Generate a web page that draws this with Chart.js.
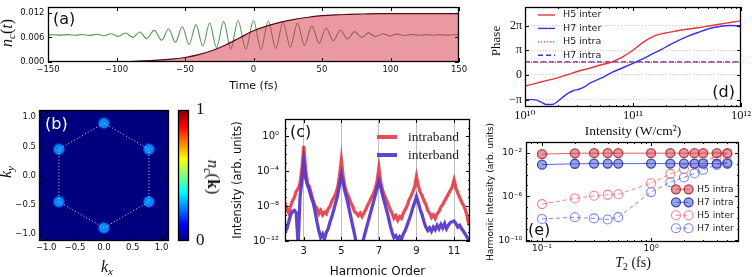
<!DOCTYPE html>
<html><head><meta charset="utf-8">
<script src="https://cdn.jsdelivr.net/npm/chart.js@4/dist/chart.umd.min.js"></script>
<style>
html,body{margin:0;padding:0;background:#fff;}
#root{position:relative;width:752px;height:277px;overflow:hidden;background:#fff;}
#root canvas{position:absolute;}
.lbl{position:absolute;white-space:nowrap;line-height:1;color:#111;z-index:5;}
.lbl sub{font-size:0.7em;vertical-align:-0.3em;line-height:0;}
</style></head><body><div id="root"></div>
<script>
// ================= DATA =================
// (a) carrier density n_c(t)
const fillTimes = [-150,-140,-130,-120,-110,-100,-90,-80,-70,-60,-50,-40,-30,-20,-10,0,10,20,30,40,50,60,70,80,90,100,110,120,130,140,150];
const fillNc = [0,0,0,0,0.00001,0.00004,0.00012,0.00025,0.00045,0.00072,0.0011,0.0018,0.0028,0.0042,0.0059,0.0076,0.0088,0.0097,0.0104,0.0109,0.0113,0.0115,0.0116,0.0117,0.0118,0.0118,0.0118,0.0118,0.0118,0.0118,0.0118];
const fieldTimes = [-150,-146,-141,-135.5,-130,-125,-120,-114.5,-109,-104,-99,-93.5,-88,-83,-78,-72.5,-67,-62,-57,-52,-47,-42,-37,-32,-27,-21.8,-16.5,-11.3,-5.6,0,5.4,10.8,16.2,21.6,26.8,32,37.3,42.6,47.8,53,58.2,63.4,68.6,73.8,79,84,89,94.4,99.6,104.8,110,115.2,120.4,125.6,130.8,136,141.2,146.4,150];
const fieldVals = [0.0066,0.00665,0.00655,0.00668,0.0065,0.0067,0.00648,0.00675,0.0064,0.00688,0.00625,0.00705,0.006,0.0073,0.0057,0.0077,0.0053,0.0081,0.0048,0.0086,0.0043,0.0091,0.0039,0.0095,0.0035,0.0099,0.0032,0.0101,0.0031,0.0101,0.0031,0.0100,0.0033,0.0097,0.0036,0.0094,0.0041,0.0088,0.0046,0.0083,0.0052,0.0078,0.0056,0.0074,0.006,0.0071,0.0062,0.0069,0.00635,0.0068,0.00645,0.00672,0.0065,0.00668,0.00652,0.00666,0.00655,0.00664,0.0066];
const timeTicks = [-150,-100,-50,0,50,100,150];
const timeTickLabels = ['\u2212150','\u2212100','\u221250','0','50','100','150'];
const ncTicks = [0,0.006,0.012];
const ncTickLabels = ['0.000','0.006','0.012'];

// (b) k-space populations (hexagon vertices)
const spotKx = [0, 0.78, 0.78, 0, -0.78, -0.78];
const spotKy = [0.9, 0.45, -0.45, -0.9, -0.45, 0.45];
const kTicks = [-1,-0.5,0,0.5,1];
const kTickLabels = ['\u22121.0','\u22120.5','0.0','0.5','1.0'];
const colorbarRange = [0, 1];
const colorbarTickLabels = ['0','1'];

// (c) harmonic spectra
const harmonicOrder = [2.0,2.1,2.2,2.3,2.4,2.5,2.6,2.7,2.8,2.9,3.0,3.1,3.2,3.3,3.4,3.5,3.6,3.7,3.8,3.9,4.0,4.1,4.2,4.3,4.4,4.5,4.6,4.7,4.8,4.9,5.0,5.1,5.2,5.3,5.4,5.5,5.6,5.7,5.8,5.9,6.0,6.1,6.2,6.3,6.4,6.5,6.6,6.7,6.8,6.9,7.0,7.1,7.2,7.3,7.4,7.5,7.6,7.7,7.8,7.9,8.0,8.1,8.2,8.3,8.4,8.5,8.6,8.7,8.8,8.9,9.0,9.1,9.2,9.3,9.4,9.5,9.6,9.7,9.8,9.9,10.0,10.1,10.2,10.3,10.4,10.5,10.6,10.7,10.8,10.9,11.0,11.1,11.2,11.3,11.4,11.5,11.6,11.7,11.8];
const intraband = [2.5e-8,4e-9,1.6e-9,1e-8,4e-8,1e-7,5e-7,1e-6,4e-6,1.6e-4,
 8e-2,1.3e-4,4e-6,1.6e-6,2.5e-7,4e-8,1e-8,6.3e-9,1.3e-9,3.2e-9,
 1e-9,2e-9,1.3e-9,5e-9,1e-8,4e-8,1e-7,2.5e-7,1.3e-6,2.5e-5,
 2e-3,2e-5,1.3e-6,3.2e-7,1e-7,2.5e-8,1e-8,2.5e-9,1.6e-9,8e-10,
 1.6e-9,6.3e-10,1.6e-9,4e-9,1.3e-8,3.2e-8,1e-7,2.5e-7,1e-6,6.3e-6,
 2.5e-4,5e-6,6.3e-7,1.6e-7,5e-8,1.6e-8,4e-9,1.6e-9,4e-10,8e-10,
 2.5e-10,6.3e-10,4e-10,1.6e-9,4e-9,1e-8,5e-8,1.3e-7,4e-7,1.6e-6,
 2.5e-5,2e-6,4e-7,1.6e-7,4e-8,1.6e-8,3.2e-9,1.6e-9,5e-10,1e-9,
 4e-10,1.3e-9,2.5e-9,8e-9,1.6e-8,4e-8,1e-7,2.5e-7,6.3e-7,1.6e-6,
 1e-5,1.3e-6,3.2e-7,1e-7,3.2e-8,1.3e-8,4e-9,6.3e-10,6.3e-11];
const interband = [1e-11,2.5e-11,1.6e-10,1e-9,2.5e-9,3.2e-9,1.6e-9,3.2e-13,1e-7,1e-5,
 1.3e-3,1.6e-5,2.5e-6,6.3e-7,1e-7,2.5e-8,2.5e-9,1.6e-10,1.6e-11,2.5e-12,
 6.3e-12,1.6e-12,1e-11,2.5e-11,1.6e-10,6.3e-10,4e-9,2.5e-8,1.6e-7,2.5e-6,
 4e-5,4e-6,4e-7,6.3e-8,6.3e-9,6.3e-10,6.3e-11,6.3e-12,5e-13,3.2e-13,
 6.3e-13,3.2e-13,2.5e-12,1.6e-11,1e-10,6.3e-10,4e-9,2.5e-8,1.6e-7,1e-6,
 8e-6,1.3e-6,1.6e-7,2.5e-8,4e-9,6.3e-10,6.3e-11,1e-11,2.5e-12,4e-12,
 1.6e-12,3.2e-12,1.6e-12,6.3e-12,1.6e-11,6.3e-11,2.5e-10,1e-9,6.3e-9,2.5e-8,
 1.3e-7,2.5e-8,4e-9,1e-9,1.6e-10,4e-11,1.6e-11,3.2e-11,1.3e-11,4e-11,
 2e-11,6.3e-11,2.5e-11,8e-11,3.2e-11,1e-10,2.5e-11,6.3e-11,1.3e-10,1.6e-10,
 2e-10,1e-10,4e-11,6.3e-11,2.5e-11,1.3e-11,6.3e-12,2.5e-12,1.3e-12];
const orderTicks = [3,5,7,9,11];
const orderTickLabels = ['3','5','7','9','11'];
const specTicks = [1,1e-4,1e-8,1e-12];
const specTickLabels = ['10\u2070','10\u207b\u2074','10\u207b\u2078','10\u207b\u00b9\u00b2'];
const specMinor = [10,1e-1,1e-2,1e-3,1e-5,1e-6,1e-7,1e-9,1e-10,1e-11];

// (d) phase vs intensity
const intensityH5 = [1e10,1.26e10,1.58e10,2e10,2.51e10,3.16e10,3.98e10,5.01e10,6.31e10,7.94e10,1e11,1.26e11,1.58e11,2e11,2.51e11,3.16e11,3.98e11,5.01e11,6.31e11,7.94e11,1e12];
const phaseH5inter = [-1.41,-1.07,-0.72,-0.38,0.06,0.50,0.85,1.26,1.63,2.26,3.14,4.21,4.96,5.34,5.59,5.81,6.00,6.22,6.44,6.66,6.88];
const intensityH7 = [1e10,1.12e10,1.26e10,1.41e10,1.58e10,1.78e10,2e10,2.24e10,2.51e10,2.82e10,3.16e10,3.55e10,3.98e10,5.01e10,6.31e10,7.94e10,1e11,1.26e11,1.58e11,2e11,2.51e11,3.16e11,3.98e11,5.01e11,6.31e11,7.94e11,1e12];
const phaseH7inter = [-3.14,-3.14,-3.17,-3.46,-3.77,-3.77,-3.39,-2.83,-2.32,-1.98,-1.82,-1.51,-1.04,-0.44,0.28,0.88,1.48,2.10,2.80,3.52,4.24,4.87,5.40,5.87,6.16,6.28,6.25];
const intensityIntra = [1e10,1e12];
const phaseH5intra = [1.60,1.60];
const phaseH7intra = [1.66,1.66];
const intensityTicks = [1e10,1e11,1e12];
const intensityTickLabels = ['10\u00b9\u2070','10\u00b9\u00b9','10\u00b9\u00b2'];
const intensityMinor = [2e10,3e10,4e10,5e10,6e10,7e10,8e10,9e10,2e11,3e11,4e11,5e11,6e11,7e11,8e11,9e11];
const phaseTicks = [-Math.PI,0,Math.PI,2*Math.PI];
const phaseTickLabels = ['\u2212\u03c0','0','\u03c0','2\u03c0'];

// (e) harmonic intensity vs T2
const t2Values = [0.1,0.2,0.3,0.4,0.5,1.0,1.5,2.0,2.5,3.0,4.0,5.0];
const h5Intra = [7.2e-3,8.7e-3,8.9e-3,8.9e-3,8.9e-3,8.9e-3,8.9e-3,8.9e-3,8.9e-3,8.9e-3,8.9e-3,8.9e-3];
const h7Intra = [8e-4,9.6e-4,1e-3,1e-3,1e-3,1e-3,1e-3,1e-3,1e-3,1e-3,1e-3,1e-3];
const h5Inter = [2e-7,6.6e-7,1.15e-6,1.4e-6,1.6e-6,1.6e-5,1.15e-4,3.2e-4,9.3e-4,1.4e-3,4.4e-3,7.6e-3];
const h7Inter = [8.9e-9,1.26e-8,1e-8,7.9e-9,1.3e-8,2.5e-6,2e-5,5.4e-5,1.26e-4,2.7e-4,7.6e-4,1.4e-3];
const t2Ticks = [0.1,1];
const t2TickLabels = ['10\u207b\u00b9','10\u2070'];
const t2Minor = [0.08,0.09,0.2,0.3,0.4,0.5,0.6,0.7,0.8,0.9,2,3,4,5,6];
const hiTicks = [1e-2,1e-6,1e-10];
const hiTickLabels = ['10\u207b\u00b2','10\u207b\u2076','10\u207b\u00b9\u2070'];
const hiMinor = [1e-3,1e-4,1e-5,1e-7,1e-8,1e-9];

// ================= HELPERS =================
const SANS = "'DejaVu Sans', sans-serif";
const SERIF = "'Liberation Serif', 'DejaVu Serif', serif";
const root = document.getElementById('root');
const pts = (xs, ys) => xs.map((x, i) => ({x, y: ys[i]}));

const framePlugin = {
  id: 'frame',
  beforeDatasetsDraw(chart, args, o) {
    if (!o || !o.bg) return;
    const {ctx, chartArea: a} = chart;
    ctx.save(); ctx.fillStyle = o.bg; ctx.fillRect(a.left, a.top, a.width, a.height); ctx.restore();
  },
  afterDraw(chart, args, o) {
    if (!o || o.display === false) return;
    const {ctx, chartArea: a} = chart;
    ctx.save();
    ctx.strokeStyle = '#000'; ctx.lineWidth = 1;
    const seg = (x1, y1, x2, y2) => { ctx.beginPath(); ctx.moveTo(x1, y1); ctx.lineTo(x2, y2); ctx.stroke(); };
    if (o.ticks !== false) {
      const L = o.tick || 4, Lm = o.minorTick || 2;
      for (const id of Object.keys(chart.scales)) {
        const s = chart.scales[id];
        if (!s.options.display) continue;
        const h = s.isHorizontal();
        const draw = (v, len) => {
          let p = s.getPixelForValue(v);
          if (h) { if (p < a.left - 0.5 || p > a.right + 0.5) return; p = Math.round(p) + 0.5;
            seg(p, a.bottom, p, a.bottom - len); seg(p, a.top, p, a.top + len); }
          else { if (p < a.top - 0.5 || p > a.bottom + 0.5) return; p = Math.round(p) + 0.5;
            seg(a.left, p, a.left + len, p); seg(a.right, p, a.right - len, p); }
        };
        s.ticks.forEach(t => draw(t.value, L));
        ((o.minor && o.minor[id]) || []).forEach(v => draw(v, Lm));
      }
    }
    ctx.lineWidth = 1.3;
    ctx.strokeRect(Math.round(a.left) + 0.5, Math.round(a.top) + 0.5, Math.round(a.width) - 1, Math.round(a.height) - 1);
    ctx.restore();
  }
};

const panelLabel = {
  id: 'plabel',
  afterDraw(chart, args, o) {
    if (!o || !o.text) return;
    const {ctx, chartArea: a} = chart;
    ctx.save(); ctx.font = o.font; ctx.fillStyle = o.color || '#111'; ctx.textBaseline = 'middle';
    let x, y;
    if (o.anchor === 'br') { x = a.right + o.x; y = a.bottom + o.y; ctx.textAlign = 'right'; }
    else if (o.anchor === 'bl') { x = a.left + o.x; y = a.bottom + o.y; ctx.textAlign = 'left'; }
    else { x = a.left + o.x; y = a.top + o.y; ctx.textAlign = 'left'; }
    ctx.fillText(o.text, x, y); ctx.restore();
  }
};

const legendPlugin = {
  id: 'mlegend',
  afterDraw(chart, args, o) {
    if (!o || !o.display) return;
    const {ctx, chartArea: a} = chart;
    ctx.save();
    ctx.font = o.font; ctx.textBaseline = 'middle';
    let row = 0;
    chart.data.datasets.forEach(ds => {
      if (!ds.label) return;
      const y = a.top + o.y + row * o.rowH, x = a.left + o.x;
      ctx.save();
      ctx.strokeStyle = ds.borderColor; ctx.lineWidth = o.lineWidth || ds.borderWidth || 1;
      ctx.setLineDash(ds.borderDash || []);
      ctx.beginPath(); ctx.moveTo(x, y); ctx.lineTo(x + o.len, y); ctx.stroke();
      ctx.restore();
      if (o.markers) {
        [x, x + o.len].forEach(px => {
          ctx.beginPath(); ctx.arc(px, y, ds.pointRadius, 0, 2 * Math.PI);
          ctx.fillStyle = ds.pointBackgroundColor; ctx.fill();
          ctx.lineWidth = ds.pointBorderWidth; ctx.strokeStyle = ds.pointBorderColor; ctx.stroke();
        });
      }
      ctx.fillStyle = o.color || '#222'; ctx.textAlign = 'left';
      ctx.fillText(ds.label, x + o.len + o.gap, y);
      row++;
    });
    ctx.restore();
  }
};
Chart.register(framePlugin, panelLabel, legendPlugin);

function axis(o) {
  return {
    type: o.type, position: o.pos, min: o.min, max: o.max, display: o.display !== false,
    afterBuildTicks: s => { s.ticks = o.ticks.map(v => ({value: v})); },
    ticks: { autoSkip: false, maxRotation: 0, minRotation: 0, padding: o.pad, color: '#111',
      font: o.font, callback: (v, i) => o.labels[i] },
    grid: Object.assign({display: false, drawTicks: false, tickLength: 0}, o.grid || {}),
    border: Object.assign({display: false}, o.border || {}),
    title: o.title || {display: false}
  };
}

function makeChart(box, area, type, data, opts) {
  const c = document.createElement('canvas');
  c.width = box.w; c.height = box.h;
  c.style.left = box.x + 'px'; c.style.top = box.y + 'px';
  c.style.width = box.w + 'px'; c.style.height = box.h + 'px';
  root.appendChild(c);
  const pad = {top: area.t - box.y, left: area.l - box.x, right: box.x + box.w - area.r, bottom: box.y + box.h - area.b};
  for (const [id, s] of Object.entries(opts.scales)) {
    if (s.display === false) continue;
    const horiz = id.startsWith('x');
    let size;
    if (horiz) { size = pad.bottom; pad.bottom = 0; }
    else if (s.position === 'right') { size = pad.right; pad.right = 0; }
    else { size = pad.left; pad.left = 0; }
    s.afterFit = sc => {
      if (horiz) sc.height = size; else sc.width = size;
      sc.paddingLeft = sc.paddingRight = sc.paddingTop = sc.paddingBottom = 0;
    };
  }
  opts.responsive = false; opts.maintainAspectRatio = false; opts.animation = false;
  opts.devicePixelRatio = 1;
  opts.layout = {padding: pad};
  opts.plugins = Object.assign({legend: {display: false}, tooltip: {enabled: false}}, opts.plugins || {});
  return new Chart(c, {type, data, options: opts});
}

function htmlLabel(html, cx, cy, rot, font) {
  const d = document.createElement('div');
  d.className = 'lbl'; d.innerHTML = html; d.style.font = font;
  d.style.left = cx + 'px'; d.style.top = cy + 'px';
  d.style.transform = 'translate(-50%,-50%) rotate(' + rot + 'deg)';
  root.appendChild(d);
}

// ================= (a) =================
makeChart({x: 0, y: 0, w: 478, h: 96}, {l: 48, t: 7, r: 459, b: 62}, 'line', {
  datasets: [
    {data: pts(fillTimes, fillNc), borderColor: '#5a0c14', borderWidth: 1.2,
     backgroundColor: 'rgba(214,52,70,0.5)', fill: 'origin', pointRadius: 0, cubicInterpolationMode: 'monotone', order: 0},
    {data: pts(fieldTimes, fieldVals), borderColor: 'rgba(70,140,70,0.9)', borderWidth: 1.1,
     fill: false, pointRadius: 0, cubicInterpolationMode: 'monotone', order: 1}
  ]
}, {
  scales: {
    x: axis({type: 'linear', min: -150, max: 150, ticks: timeTicks, labels: timeTickLabels, pad: 3,
      font: {family: SANS, size: 8.5},
      title: {display: true, text: 'Time (fs)', color: '#111', font: {family: SANS, size: 11}, padding: {top: 0, bottom: 3}}}),
    y: axis({type: 'linear', min: 0, max: 0.0134, ticks: ncTicks, labels: ncTickLabels, pad: 3.5,
      font: {family: SANS, size: 8.5}})
  },
  plugins: {frame: {tick: 4}, plabel: {text: '(a)', x: 5, y: 13, font: '16px ' + SANS}, mlegend: {display: false}}
});

// ================= (b) heatmap =================
const spotData = pts(spotKx, spotKy);
makeChart({x: 0, y: 100, w: 175, h: 160}, {l: 39, t: 110, r: 170, b: 241}, 'scatter', {
  datasets: [
    {data: spotData.concat([spotData[0]]), showLine: true, borderColor: 'rgba(255,255,255,0.85)', borderWidth: 1,
     borderDash: [1, 2.2], pointRadius: 0},
    {data: spotData, pointRadius: 6.2, pointBackgroundColor: 'rgba(0,80,255,0.55)', pointBorderWidth: 0},
    {data: spotData, pointRadius: 5.2, pointBackgroundColor: 'rgba(0,190,255,0.8)', pointBorderWidth: 0},
    {data: spotData, pointRadius: 4.3, pointBackgroundColor: '#8cf27c', pointBorderWidth: 0}
  ]
}, {
  scales: {
    x: axis({type: 'linear', min: -1.125, max: 1.125, ticks: kTicks, labels: kTickLabels, pad: 2, font: {family: SANS, size: 8.5}}),
    y: axis({type: 'linear', min: -1.125, max: 1.125, ticks: kTicks, labels: kTickLabels, pad: 3, font: {family: SANS, size: 8.5}})
  },
  plugins: {frame: {tick: 4, bg: '#00007f'}, plabel: {text: '(b)', x: 6, y: 15, font: '16px ' + SANS, color: '#fff'}}
});

// colorbar
const jetStops = [[0, '#00007f'], [0.125, '#0000ff'], [0.375, '#00ffff'], [0.5, '#7fff7f'], [0.625, '#ffff00'], [0.875, '#ff0000'], [1, '#7f0000']];
makeChart({x: 170, y: 100, w: 45, h: 152}, {l: 178, t: 110, r: 189, b: 241}, 'bar', {
  labels: ['n'],
  datasets: [{data: [colorbarRange], barPercentage: 1, categoryPercentage: 1, borderWidth: 0,
    backgroundColor: (c) => {
      const a = c.chart.chartArea; if (!a) return '#00007f';
      const g = c.chart.ctx.createLinearGradient(0, a.bottom, 0, a.top);
      jetStops.forEach(s => g.addColorStop(s[0], s[1])); return g;
    }}]
}, {
  scales: {
    x: {type: 'category', display: false},
    y: axis({type: 'linear', pos: 'right', min: 0, max: 1, ticks: colorbarRange, labels: colorbarTickLabels, pad: 7,
      font: {family: SERIF, size: 17}})
  },
  plugins: {frame: {ticks: false}}
});

// ================= (c) =================
makeChart({x: 225, y: 110, w: 255, h: 172}, {l: 285, t: 119, r: 470, b: 241}, 'line', {
  datasets: [
    {label: 'intraband', data: pts(harmonicOrder, intraband), borderColor: 'rgba(228,62,72,0.92)', borderWidth: 3.3,
     pointRadius: 0, tension: 0, order: 1},
    {label: 'interband', data: pts(harmonicOrder, interband), borderColor: 'rgba(88,58,200,0.95)', borderWidth: 3.3,
     pointRadius: 0, tension: 0, order: 0}
  ]
}, {
  scales: {
    x: axis({type: 'linear', min: 2, max: 11.85, ticks: orderTicks, labels: orderTickLabels, pad: 4,
      font: {family: SANS, size: 10},
      grid: {display: true, drawOnChartArea: true, color: 'rgba(0,0,0,0.25)', lineWidth: 1},
      title: {display: true, text: 'Harmonic Order', color: '#111', font: {family: SANS, size: 12}, padding: {top: 0, bottom: 2.8}}}),
    y: axis({type: 'logarithmic', min: 1e-12, max: 100, ticks: specTicks, labels: specTickLabels, pad: 6,
      font: {family: SANS, size: 10},
      title: {display: true, text: 'Intensity (arb. units)', color: '#111', font: {family: SANS, size: 11.5}, padding: {top: 6, bottom: 0}}})
  },
  plugins: {frame: {tick: 4, minor: {y: specMinor}}, plabel: {text: '(c)', x: 5, y: 14, font: '16px ' + SANS},
    mlegend: {display: true, x: 92, y: 18, rowH: 18, len: 20, gap: 11, lineWidth: 4, font: '13.5px ' + SERIF, color: '#222'}}
});

// ================= (d) =================
makeChart({x: 500, y: 0, w: 252, h: 142}, {l: 525, t: 7, r: 741, b: 107}, 'line', {
  datasets: [
    {label: 'H5 inter', data: pts(intensityH5, phaseH5inter), borderColor: 'rgb(232,52,58)', borderWidth: 1.4,
     pointRadius: 0, cubicInterpolationMode: 'monotone'},
    {label: 'H7 inter', data: pts(intensityH7, phaseH7inter), borderColor: 'rgb(52,52,232)', borderWidth: 1.4,
     pointRadius: 0, cubicInterpolationMode: 'monotone'},
    {label: 'H5 intra', data: pts(intensityIntra, phaseH5intra), borderColor: 'rgb(232,52,58)', borderWidth: 1.3,
     borderDash: [1.2, 1.8], pointRadius: 0},
    {label: 'H7 intra', data: pts(intensityIntra, phaseH7intra), borderColor: 'rgb(52,52,232)', borderWidth: 1.4,
     borderDash: [5, 3], pointRadius: 0}
  ]
}, {
  scales: {
    x: axis({type: 'logarithmic', min: 1e10, max: 1e12, ticks: intensityTicks, labels: intensityTickLabels, pad: 1,
      font: {family: SERIF, size: 12.5},
      title: {display: true, text: 'Intensity (W/cm\u00b2)', color: '#111', font: {family: SERIF, size: 13.5}, padding: {top: 0, bottom: 2.2}}}),
    y: axis({type: 'linear', min: -4.08, max: 8.64, ticks: phaseTicks, labels: phaseTickLabels, pad: 3,
      font: {family: SERIF, size: 12},
      grid: {display: true, drawOnChartArea: true, color: 'rgba(0,0,0,0.25)', lineWidth: 0.8},
      border: {display: false, dash: [1, 2]}})
  },
  plugins: {frame: {tick: 4, minor: {x: intensityMinor}}, plabel: {text: '(d)', anchor: 'br', x: -6, y: -14, font: '16px ' + SANS},
    mlegend: {display: true, x: 13, y: 8, rowH: 13.4, len: 17, gap: 8, font: '9.5px ' + SANS, color: '#222'}}
});

// ================= (e) =================
makeChart({x: 480, y: 135, w: 272, h: 142}, {l: 526, t: 142, r: 739, b: 242}, 'line', {
  datasets: [
    {label: 'H5 intra', data: pts(t2Values, h5Intra), borderColor: 'rgba(228,75,85,0.9)', borderWidth: 1,
     pointRadius: 4.5, pointBorderWidth: 1.3, pointBackgroundColor: 'rgba(205,70,80,0.55)', pointBorderColor: 'rgba(170,45,55,0.9)'},
    {label: 'H7 intra', data: pts(t2Values, h7Intra), borderColor: 'rgba(65,85,228,0.9)', borderWidth: 1,
     pointRadius: 4.5, pointBorderWidth: 1.3, pointBackgroundColor: 'rgba(70,90,205,0.55)', pointBorderColor: 'rgba(45,55,170,0.9)'},
    {label: 'H5 inter', data: pts(t2Values, h5Inter), borderColor: 'rgba(238,115,125,0.85)', borderWidth: 1, borderDash: [4, 3],
     pointRadius: 4.5, pointBorderWidth: 1.1, pointBackgroundColor: 'rgba(255,255,255,0)', pointBorderColor: 'rgba(238,115,125,0.9)'},
    {label: 'H7 inter', data: pts(t2Values, h7Inter), borderColor: 'rgba(105,115,238,0.85)', borderWidth: 1, borderDash: [4, 3],
     pointRadius: 4.5, pointBorderWidth: 1.1, pointBackgroundColor: 'rgba(255,255,255,0)', pointBorderColor: 'rgba(105,115,238,0.9)'}
  ]
}, {
  scales: {
    x: axis({type: 'logarithmic', min: 0.0713, max: 6.4, ticks: t2Ticks, labels: t2TickLabels, pad: 1,
      font: {family: SANS, size: 9}}),
    y: axis({type: 'logarithmic', min: 7e-11, max: 0.093, ticks: hiTicks, labels: hiTickLabels, pad: 4,
      font: {family: SANS, size: 9}})
  },
  plugins: {frame: {tick: 4, minor: {x: t2Minor, y: hiMinor}}, plabel: {text: '(e)', anchor: 'bl', x: 2, y: -11, font: '16px ' + SANS},
    mlegend: {display: true, x: 150, y: 47.3, rowH: 13, len: 12.6, gap: 8.7, markers: true, font: '9px ' + SANS, color: '#222'}}
});

// ================= axis titles with sub/superscripts =================
htmlLabel('<i>n<sub>c</sub></i>(<i>t</i>)', 7, 33, -90, 'italic 0 14px ' + SERIF);
htmlLabel('<i>k<sub>y</sub></i>', 6, 172, -90, '16px ' + SERIF);
htmlLabel('<i>k<sub>x</sub></i>', 107, 267, 0, '16px ' + SERIF);
htmlLabel('<i>n<sub>c</sub></i>(<b>k</b>)', 213, 177, 90, '17px ' + SERIF);
htmlLabel('Phase', 496, 41, -90, '13px ' + SERIF);
htmlLabel('Harmonic Intensity (arb. units)', 490, 192, -90, '9px ' + SANS);
htmlLabel('<i>T</i><sub>2</sub> (fs)', 633, 263, 0, '14px ' + SERIF);
</script></body></html>
